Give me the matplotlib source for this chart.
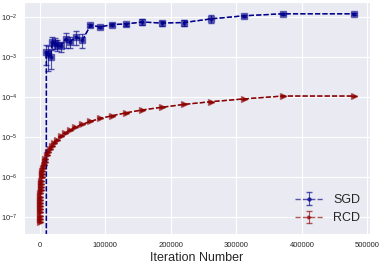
import matplotlib

matplotlib.use("Agg")
import matplotlib.pyplot as plt
import seaborn as sns

# iteration counts and objective gap
sgd_iters = [8600, 10200, 13200, 16700, 19300, 22800, 26900, 31900, 39500, 46000,
             55100, 65300, 77400, 92600, 110300, 131000, 155800, 186200, 220500,
             262100, 311600, 370800, 480000]
sgd_vals = [0.0, 1.33e-3, 1.15e-3, 1.0e-3, 2.37e-3, 2.24e-3, 2.03e-3, 1.86e-3, 2.8e-3,
            2.37e-3, 3.16e-3, 2.63e-3, 6.1e-3, 5.6e-3, 6.4e-3, 6.6e-3, 7.4e-3, 7.0e-3,
            7.2e-3, 8.9e-3, 1.06e-2, 1.19e-2, 1.19e-2]
sgd_err = [0.0, 7e-4, 7e-4, 5e-4, 8e-4, 7e-4, 6e-4, 5e-4, 1.1e-3, 7e-4, 1.2e-3,
           1.0e-3, 4e-4, 3e-4, 5e-4, 6e-4, 1.3e-3, 1.0e-3, 1.2e-3, 2.0e-3, 8e-4,
           6e-4, 5e-4]

rcd_iters = [232, 278, 333, 400, 480, 575, 690, 825, 990, 1190, 1425, 1710, 2050,
             2460, 2960, 3550, 4260, 5110, 6130, 7360, 8830, 10600, 12600, 15200,
             18200, 21700, 26300, 31900, 38400, 45500, 54600, 64800, 77400, 92600,
             110300, 131000, 155800, 186200, 220500, 262100, 311600, 370800, 480000]
rcd_vals = [7.6e-8, 9.1e-8, 1.09e-7, 1.31e-7, 1.57e-7, 1.89e-7, 2.27e-7, 2.71e-7,
            3.25e-7, 3.9e-7, 4.68e-7, 5.6e-7, 6.7e-7, 8.1e-7, 9.7e-7, 1.16e-6,
            1.39e-6, 1.67e-6, 2.0e-6, 2.4e-6, 2.88e-6, 3.45e-6, 4.1e-6, 4.95e-6,
            5.9e-6, 7.05e-6, 8.5e-6, 1.03e-5, 1.24e-5, 1.46e-5, 1.74e-5, 2.06e-5,
            2.44e-5, 2.9e-5, 3.38e-5, 3.98e-5, 4.7e-5, 5.5e-5, 6.5e-5, 7.6e-5,
            8.9e-5, 1.05e-4, 1.05e-4]
rcd_err = [0.0] * len(rcd_vals)

sns.set_style("darkgrid")
plt.rcParams["font.family"] = ["Liberation Sans", "DejaVu Sans"]

fig, ax = plt.subplots(figsize=(3.83, 2.64), dpi=100)
fig.subplots_adjust(left=0.063, right=0.966, top=0.994, bottom=0.1125)

ax.set_yscale("log")

# light wide markers underneath, errorbar (used for the legend) on top
ax.plot(sgd_iters, sgd_vals, "s", color="darkblue", ms=4, alpha=0.5)
sgd = ax.errorbar(sgd_iters, sgd_vals, yerr=sgd_err, color="darkblue", fmt="o--",
                  ms=2.2, lw=1.0, capsize=2.5, elinewidth=0.8, alpha=0.65, label="SGD")
ax.plot(sgd_iters, sgd_vals, "--", color="darkblue", lw=1.0)

ax.plot(rcd_iters, rcd_vals, ">", color="darkred", ms=4, alpha=0.5)
rcd = ax.errorbar(rcd_iters, rcd_vals, yerr=rcd_err, color="darkred", fmt=">--",
                  ms=2.2, lw=1.0, capsize=2.5, elinewidth=0.8, alpha=0.65, label="RCD")
ax.plot(rcd_iters, rcd_vals, "--", color="darkred", lw=1.0)

ax.set_ylim(3.7e-8, 2.4e-2)
ax.set_xticks([0, 100000, 200000, 300000, 400000, 500000])
ax.tick_params(axis="x", labelsize=5.5, pad=2)
ax.tick_params(axis="y", labelsize=5.5, pad=1.5)
ax.set_xlabel("Iteration Number", fontsize=9, labelpad=2)
ax.legend(handles=[sgd, rcd], loc="lower right", fontsize=9, frameon=False,
          handlelength=2.2, borderaxespad=0.4)

fig.savefig("out.png", dpi=100)
